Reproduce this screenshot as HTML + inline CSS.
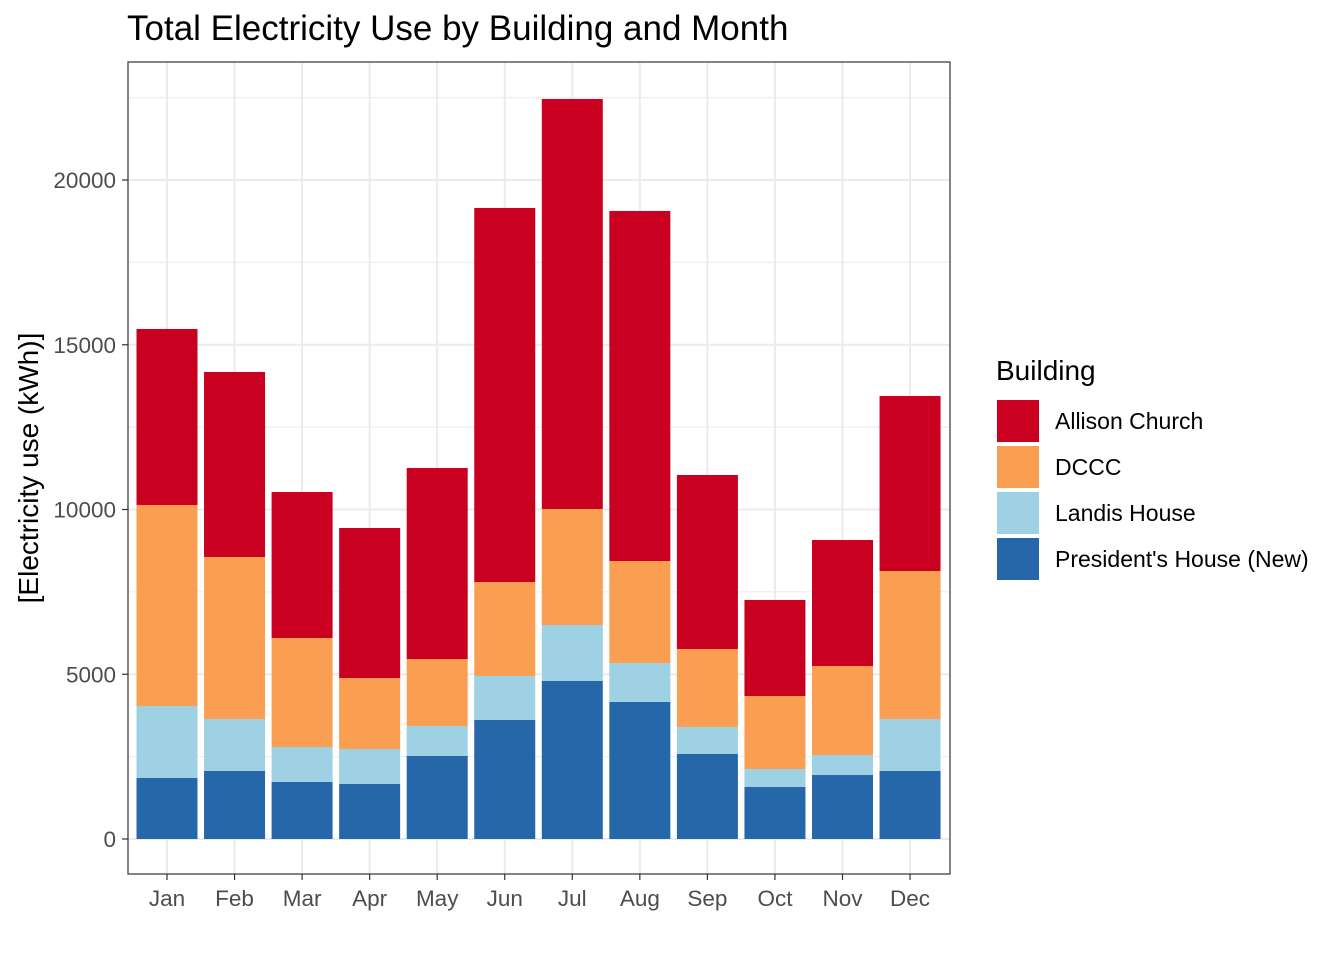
<!DOCTYPE html>
<html><head><meta charset="utf-8"><style>
body{margin:0;background:#fff;font-family:"Liberation Sans",Arial,sans-serif}
</style></head><body>
<svg id="chart" width="1344" height="960" xmlns="http://www.w3.org/2000/svg" font-family="Liberation Sans, Arial, sans-serif">
<text x="127" y="40" font-size="35" fill="#000">Total Electricity Use by Building and Month</text>
<g id="grid"></g><g id="bars"></g><g id="axes"></g>
<rect x="128" y="62" width="822" height="812" fill="none" stroke="#333" stroke-width="1.2"/>
<text transform="translate(38,468) rotate(-90)" text-anchor="middle" font-size="28" fill="#000">[Electricity use (kWh)]</text>
<g id="legend">
<text x="996" y="380" font-size="28" fill="#000">Building</text>
</g>
</svg>
<script>
const months=["Jan","Feb","Mar","Apr","May","Jun","Jul","Aug","Sep","Oct","Nov","Dec"];
const series=["President's House (New)","Landis House","DCCC","Allison Church"];
const president=[1851,2064,1730,1669,2519,3612,4795,4158,2580,1578,1942,2064];
const landis=[2186,1578,1062,1062,911,1335,1700,1184,819,547,607,1578];
const dccc=[6100,4917,3308,2155,2033,2853,3521,3095,2368,2215,2702,4492];
const allison=[5342,5615,4431,4553,5797,11351,12443,10623,5280,2914,3824,5311];
const yTicks=[0,5000,10000,15000,20000];
const colors=["#2567A9","#9DD1E3","#FA9E51","#CA0020"];
const NS="http://www.w3.org/2000/svg";
const y0=839,pxPer=659/20000;
const y=v=>y0-v*pxPer;
const x=i=>167+i*67.55;
const bw=61;
function mk(tag,attrs,parent){const e=document.createElementNS(NS,tag);for(const k in attrs)e.setAttribute(k,attrs[k]);parent.appendChild(e);return e;}
const grid=document.getElementById('grid'),bars=document.getElementById('bars'),axes=document.getElementById('axes'),legend=document.getElementById('legend');
for(let v=-2500;v<=22500;v+=2500){const yy=y(v);if(yy<62||yy>874)continue;const major=v%5000===0;
const l=mk('line',{x1:128,x2:950,y1:yy,y2:yy,stroke:'#ebebeb','stroke-width':major?2:1},grid);

}
months.forEach((m,i)=>{const l=mk('line',{x1:x(i),x2:x(i),y1:62,y2:874,stroke:'#ebebeb','stroke-width':2},grid);


const t=mk('text',{x:x(i),y:906,'text-anchor':'middle','font-size':22.5,fill:'#4d4d4d'},axes);t.textContent=m;


mk('line',{x1:x(i),x2:x(i),y1:874,y2:880,stroke:'#333','stroke-width':1.2},axes);});
yTicks.forEach(v=>{const t=mk('text',{x:116,y:y(v)+8,'text-anchor':'end','font-size':22.5,fill:'#4d4d4d'},axes);t.textContent=v;


mk('line',{x1:122,x2:128,y1:y(v),y2:y(v),stroke:'#333','stroke-width':1.2},axes);});
const data=[president,landis,dccc,allison];
months.forEach((m,i)=>{let cum=0;data.forEach((arr,s)=>{const top=cum+arr[i];
const r=mk('rect',{x:x(i)-bw/2,y:y(top),width:bw,height:y(cum)-y(top),fill:colors[s]},bars);


cum=top;});});
const legOrder=[3,2,1,0];
legOrder.forEach((s,k)=>{const yy=400+k*46;
const r=mk('rect',{x:997,y:yy,width:42,height:42,fill:colors[s]},legend);


const t=mk('text',{x:1055,y:yy+29,'font-size':23,fill:'#000'},legend);t.textContent=series[s];

});
</script>
</body></html>
